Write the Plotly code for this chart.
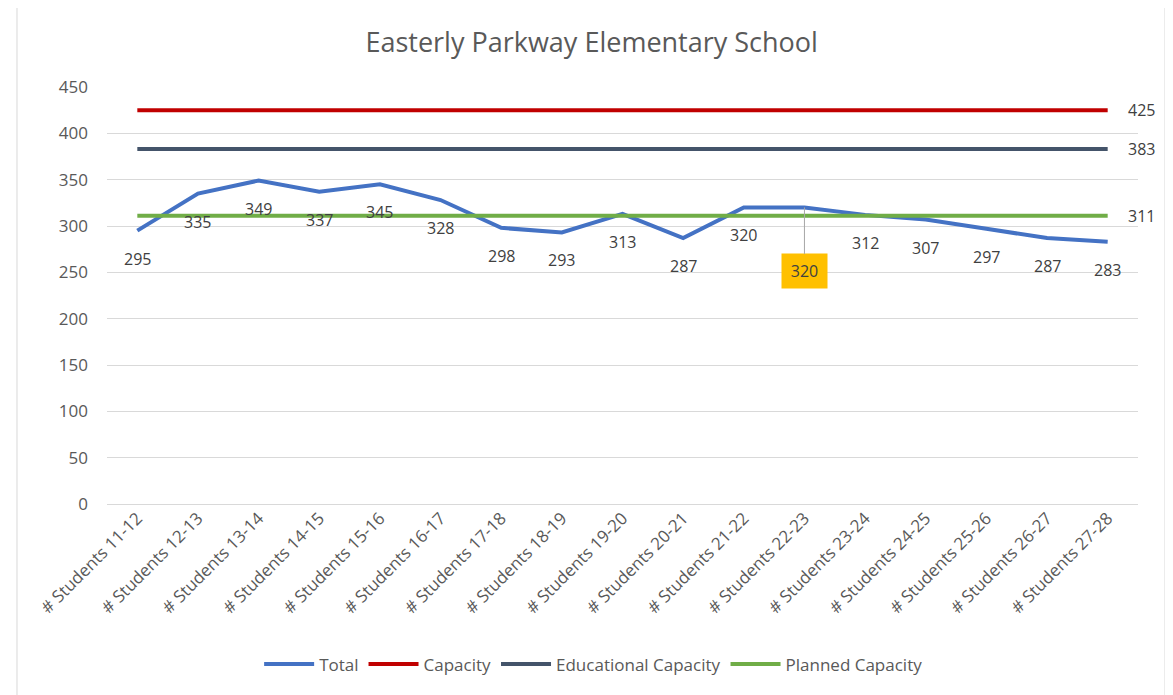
import plotly.graph_objects as go

categories = ["# Students 11-12", "# Students 12-13", "# Students 13-14", "# Students 14-15",
              "# Students 15-16", "# Students 16-17", "# Students 17-18", "# Students 18-19",
              "# Students 19-20", "# Students 20-21", "# Students 21-22", "# Students 22-23",
              "# Students 23-24", "# Students 24-25", "# Students 25-26", "# Students 26-27",
              "# Students 27-28"]
total = [295, 335, 349, 337, 345, 328, 298, 293, 313, 287, 320, 320, 312, 307, 297, 287, 283]
capacity = [425] * len(categories)
educational_capacity = [383] * len(categories)
planned_capacity = [311] * len(categories)
highlight_index = 11

FONT = "Open Sans"
fig = go.Figure()
series = [("Total", total, "#4472C4"), ("Capacity", capacity, "#C00000"),
          ("Educational Capacity", educational_capacity, "#44546A"),
          ("Planned Capacity", planned_capacity, "#70AD47")]
for name, vals, col in series:
    fig.add_trace(go.Scatter(x=categories, y=vals, mode="lines", name=name,
                             line=dict(color=col, width=4), hoverinfo="skip"))

annotations = []
for i, (c, v) in enumerate(zip(categories, total)):
    if i == highlight_index:
        annotations.append(dict(x=c, y=v, text=str(v), showarrow=True, arrowhead=0,
                                arrowcolor="#A6A6A6", arrowwidth=1, ax=0, ay=64,
                                bgcolor="#FFC000", borderpad=6, width=33,
                                font=dict(family=FONT, size=16, color="#404040")))
    else:
        annotations.append(dict(x=c, y=v, text=str(v), showarrow=False, yshift=-28,
                                font=dict(family=FONT, size=16, color="#404040")))
for vals in (capacity, educational_capacity, planned_capacity):
    annotations.append(dict(x=categories[-1], y=vals[-1], text=str(vals[-1]), showarrow=False,
                            xanchor="left", xshift=18,
                            font=dict(family=FONT, size=16, color="#404040")))

shapes = [
    dict(type="line", xref="paper", yref="paper", x0=-0.0873, x1=-0.0873, y0=-0.46, y1=1.21,
         line=dict(color="#D9D9D9", width=1)),
    dict(type="line", xref="paper", yref="paper", x0=1.0262, x1=1.0262, y0=-0.46, y1=1.21,
         line=dict(color="#D9D9D9", width=1)),
]

fig.update_layout(
    width=1165, height=687,
    margin=dict(l=99, r=35, t=79, b=191, autoexpand=False),
    paper_bgcolor="white", plot_bgcolor="white",
    title=dict(text="Easterly Parkway Elementary School", x=0.501, xanchor="center",
               y=0.95, yanchor="middle", font=dict(family=FONT, size=27, color="#595959")),
    xaxis=dict(type="category", range=[-0.5, 16.5], tickangle=-45, showgrid=False,
               showline=False, ticks="", automargin=False,
               tickfont=dict(family=FONT, size=17, color="#595959")),
    yaxis=dict(range=[0, 450], dtick=50, showgrid=True, gridcolor="#D9D9D9", gridwidth=1,
               zeroline=True, zerolinecolor="#D9D9D9", zerolinewidth=1, ticks="",
               ticklabelstandoff=18, automargin=False,
               tickfont=dict(family=FONT, size=17, color="#595959")),
    legend=dict(orientation="h", x=0.472, xanchor="center", y=-0.385, yanchor="middle",
                font=dict(family=FONT, size=17, color="#595959"), itemwidth=50,
                entrywidthmode="pixels"),
    annotations=annotations, shapes=shapes, showlegend=True,
)
fig.write_html("out.html")
